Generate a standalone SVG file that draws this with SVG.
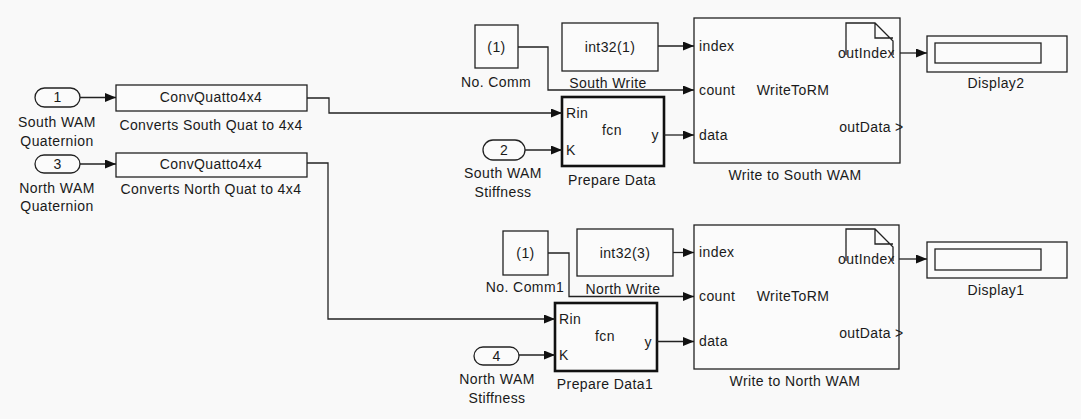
<svg xmlns="http://www.w3.org/2000/svg" width="1081" height="419" viewBox="0 0 1081 419">
<defs>
<marker id="ah" viewBox="0 0 11 9" refX="11" refY="4.5" markerWidth="11" markerHeight="9" markerUnits="userSpaceOnUse" orient="auto">
<path d="M0,0 L11,4.5 L0,9 Z" fill="#111"/>
</marker>
<style>
text{font-family:"Liberation Sans",Arial,sans-serif;font-size:14px;fill:#1a1a1a;letter-spacing:0.4px}
.c{text-anchor:middle}
.r{text-anchor:end}
.box{fill:#fbfbfb;stroke:#222;stroke-width:1.3}
.thick{fill:#fbfbfb;stroke:#111;stroke-width:2.6}
.wire{fill:none;stroke:#222;stroke-width:1.3}
.arr{fill:none;stroke:#222;stroke-width:1.3;marker-end:url(#ah)}
</style>
</defs>
<rect x="0" y="0" width="1081" height="419" fill="#f9f9f9"/>

<g id="in1">
<rect class="box" x="35" y="88" width="45" height="19" rx="9.5"/>
<text class="c" x="57.5" y="102">1</text>
<text class="c" x="57" y="127">South WAM</text>
<text class="c" x="57" y="146">Quaternion</text>
</g>
<g id="in3">
<rect class="box" x="35" y="155" width="45" height="18" rx="9"/>
<text class="c" x="57.5" y="169">3</text>
<text class="c" x="57" y="193">North WAM</text>
<text class="c" x="57" y="211">Quaternion</text>
</g>
<g id="conv1">
<rect class="box" x="116" y="85" width="191" height="26"/>
<text class="c" x="211" y="102">ConvQuatto4x4</text>
<text class="c" x="211" y="130">Converts South Quat to 4x4</text>
</g>
<g id="conv2">
<rect class="box" x="116" y="153" width="191" height="24"/>
<text class="c" x="211" y="169">ConvQuatto4x4</text>
<text class="c" x="211" y="194">Converts North Quat to 4x4</text>
</g>

<g id="nocomm">
<rect class="box" x="475" y="25" width="43" height="43"/>
<text class="c" x="496.5" y="52">(1)</text>
<text class="c" x="496" y="87">No. Comm</text>
</g>
<g id="southwrite">
<rect class="box" x="562" y="23" width="96" height="48"/>
<text class="c" x="610" y="52">int32(1)</text>
<text class="c" x="608" y="88">South Write</text>
</g>
<g id="in2">
<rect class="box" x="483" y="140" width="42" height="20" rx="10"/>
<text class="c" x="504" y="155">2</text>
<text class="c" x="503" y="178">South WAM</text>
<text class="c" x="503" y="197">Stiffness</text>
</g>
<g id="prep1">
<rect class="thick" x="562" y="97" width="102" height="69"/>
<text x="566" y="118">Rin</text>
<text x="566" y="155">K</text>
<text class="c" x="612" y="135">fcn</text>
<text class="r" x="659" y="140">y</text>
<text class="c" x="612" y="185">Prepare Data</text>
</g>
<g id="writesouth">
<rect class="box" x="694" y="18" width="206" height="145"/>
<path class="wire" d="M846,55 V23 H875 L893,41 V55 M875,23 V38 H893" stroke-width="1.2"/>
<text x="699" y="51">index</text>
<text x="699" y="95">count</text>
<text x="699" y="140">data</text>
<text class="c" x="793" y="95">WriteToRM</text>
<text class="r" x="895" y="58">outIndex</text>
<text class="r" x="891" y="132">outData</text>
<text x="895" y="132">&gt;</text>
<text class="c" x="795" y="180">Write to South WAM</text>
</g>
<g id="display2">
<rect class="box" x="927" y="36" width="140" height="36"/>
<rect class="box" x="935" y="43" width="106" height="20"/>
<text class="c" x="996" y="88">Display2</text>
</g>

<g id="nocomm1">
<rect class="box" x="503" y="231" width="45" height="44"/>
<text class="c" x="525.5" y="258">(1)</text>
<text class="c" x="525" y="292">No. Comm1</text>
</g>
<g id="northwrite">
<rect class="box" x="577" y="229" width="96" height="47"/>
<text class="c" x="625" y="258">int32(3)</text>
<text class="c" x="623" y="294">North Write</text>
</g>
<g id="in4">
<rect class="box" x="474" y="347" width="45" height="18" rx="9"/>
<text class="c" x="496.5" y="361">4</text>
<text class="c" x="497" y="384">North WAM</text>
<text class="c" x="497" y="403">Stiffness</text>
</g>
<g id="prep2">
<rect class="thick" x="555" y="303" width="102" height="68"/>
<text x="559" y="324">Rin</text>
<text x="559" y="360">K</text>
<text class="c" x="605" y="341">fcn</text>
<text class="r" x="652" y="347">y</text>
<text class="c" x="605" y="389">Prepare Data1</text>
</g>
<g id="writenorth">
<rect class="box" x="694" y="225" width="205" height="144"/>
<path class="wire" d="M846,261 V229 H875 L893,247 V261 M875,229 V244 H893" stroke-width="1.2"/>
<text x="699" y="257">index</text>
<text x="699" y="301">count</text>
<text x="699" y="346">data</text>
<text class="c" x="793" y="301">WriteToRM</text>
<text class="r" x="895" y="264">outIndex</text>
<text class="r" x="891" y="338">outData</text>
<text x="895" y="338">&gt;</text>
<text class="c" x="795" y="386">Write to North WAM</text>
</g>
<g id="display1">
<rect class="box" x="927" y="242" width="140" height="36"/>
<rect class="box" x="935" y="249" width="106" height="21"/>
<text class="c" x="996" y="295">Display1</text>
</g>

<g id="connectors">
<path class="arr" d="M80,97.5 H116"/>
<path class="arr" d="M80,164 H116"/>
<path class="arr" d="M307,98 H329 V113 H562"/>
<path class="arr" d="M307,163 H328 V319 H555"/>
<path class="arr" d="M518,47 H548 V90 H694"/>
<path class="arr" d="M658,46 H694"/>
<path class="arr" d="M525,150 H562"/>
<path class="arr" d="M664,135 H694"/>
<path class="arr" d="M900,53 H927"/>
<path class="arr" d="M548,253 H569 V296.5 H694"/>
<path class="arr" d="M673,252.5 H694"/>
<path class="arr" d="M519,355 H555"/>
<path class="arr" d="M657,341.5 H694"/>
<path class="arr" d="M899,259 H927"/>
</g>
</svg>
